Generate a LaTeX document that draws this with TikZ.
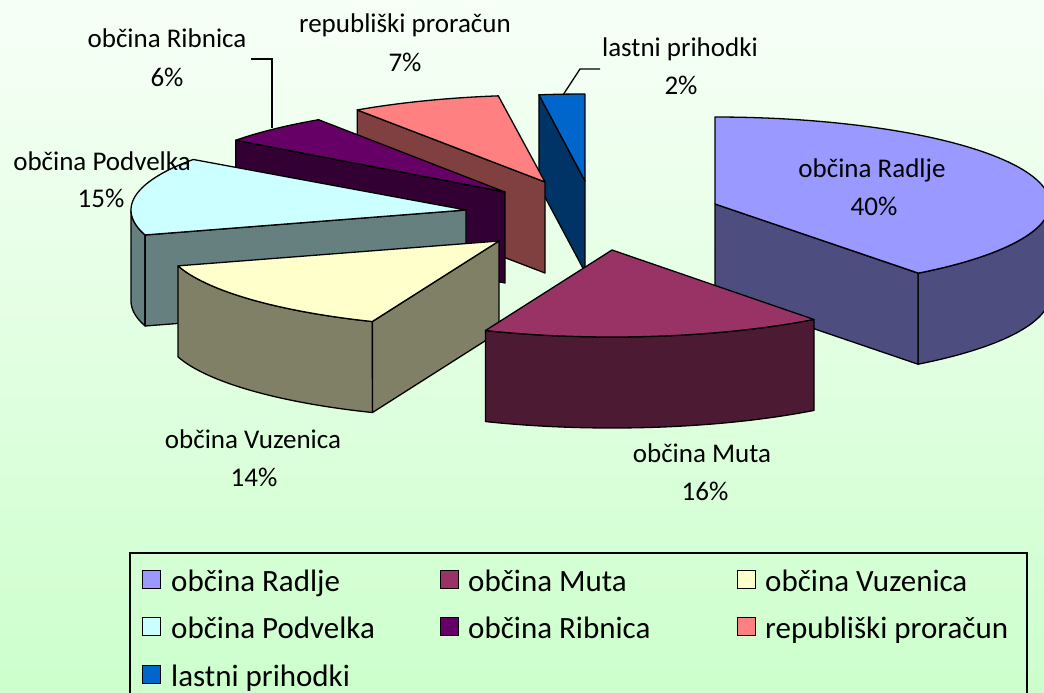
\documentclass[tikz,border=0pt]{standalone}
\usepackage{fontspec}
\setmainfont{Carlito}
\definecolor{bgtop}{HTML}{F7FFF7}
\definecolor{bgbot}{HTML}{CCFFCC}
\definecolor{radT}{HTML}{9999FF}\definecolor{radS}{HTML}{4D4D80}
\definecolor{mutT}{HTML}{993366}\definecolor{mutS}{HTML}{4D1A33}
\definecolor{vuzT}{HTML}{FFFFCC}\definecolor{vuzS}{HTML}{808066}
\definecolor{podT}{HTML}{CCFFFF}\definecolor{podS}{HTML}{668080}
\definecolor{ribT}{HTML}{660066}\definecolor{ribS}{HTML}{330033}
\definecolor{repT}{HTML}{FF8080}\definecolor{repS}{HTML}{804040}
\definecolor{lasT}{HTML}{0066CC}\definecolor{lasS}{HTML}{003366}
\newcommand\sectortop[5]{%
  \filldraw[pieedge,fill=#5] (#1,#2) -- plot[domain=0:1,samples=80]
   ({#1+335*cos((#3)+\x*((#4)-(#3)))},{#2-87*sin((#3)+\x*((#4)-(#3)))}) -- cycle;}
\newcommand\sectorside[5]{%
  \filldraw[pieedge,fill=#5] plot[domain=0:1,samples=50]
   ({#1+335*cos((#3)+\x*((#4)-(#3)))},{#2-87*sin((#3)+\x*((#4)-(#3)))})
   -- plot[domain=0:1,samples=50]
   ({#1+335*cos((#4)+\x*((#3)-(#4)))},{#2+91-87*sin((#4)+\x*((#3)-(#4)))}) -- cycle;}
\newcommand\sectorcut[4]{%
  \filldraw[pieedge,fill=#4] (#1,#2) -- ({#1+335*cos(#3)},{#2-87*sin(#3)})
   -- ({#1+335*cos(#3)},{#2+91-87*sin(#3)}) -- (#1,{#2+91}) -- cycle;}
\begin{document}
\begin{tikzpicture}[x=1pt,y=-1pt,
  pieedge/.style={draw=black,line width=1.3pt,line join=round},
  lbl/.style={anchor=base,inner sep=0pt,font=\fontsize{27}{32}\selectfont},
  legtxt/.style={anchor=base west,inner sep=0pt,font=\fontsize{31}{36}\selectfont},
  swatch/.style={draw=black,line width=1pt,minimum size=18pt,inner sep=0pt,anchor=south west},
  leader/.style={draw=black,line width=1.3pt}]
\useasboundingbox (0,0) rectangle (1044,693);
\clip (0,0) rectangle (1044,693);
\shade[top color=bgtop,bottom color=bgbot] (0,0) rectangle (1044,693);
% Radlje
\sectorside{715}{204}{-52.7}{0}{radS}
\sectorcut{715}{204}{-52.7}{radS}
\sectortop{715}{204}{90}{-52.7}{radT}
% lastni prihodki
\sectorcut{585}{181}{97.9}{lasS}
\sectortop{585}{181}{97.9}{90}{lasT}
% republiski proracun
\sectorcut{545}{182}{124.1}{repS}
\sectortop{545}{182}{124.1}{98}{repT}
% Ribnica
\sectorcut{505}{192}{143.5}{ribS}
\sectortop{505}{192}{143.5}{123.8}{ribT}
% Podvelka
\sectorside{466}{210}{180}{196.7}{podS}
\sectorcut{466}{210}{196.7}{podS}
\sectortop{466}{210}{144.5}{196.7}{podT}
% Vuzenica
\sectorside{499}{241}{196.6}{247.8}{vuzS}
\sectorcut{499}{241}{247.8}{vuzS}
\sectortop{499}{241}{196.6}{247.8}{vuzT}
% Muta
\sectorside{612}{250}{247.8}{307.1}{mutS}
\sectortop{612}{250}{247.8}{307.1}{mutT}
% labels
\node[lbl] (ribA) at (167,48) {občina Ribnica};
\node[lbl] (ribB) at (167,86) {6\%};
\node[lbl] (repA) at (405,33) {republiški proračun};
\node[lbl] (repB) at (405,72) {7\%};
\node[lbl] (lasA) at (680,57) {lastni prihodki};
\node[lbl] (lasB) at (681,95) {2\%};
\node[lbl] (radA) at (872,177) {občina Radlje};
\node[lbl] (radB) at (874,215) {40\%};
\node[lbl] (podA) at (102,170) {občina Podvelka};
\node[lbl] (podB) at (101,207) {15\%};
\node[lbl] (vuzA) at (253,448) {občina Vuzenica};
\node[lbl] (vuzB) at (254,486) {14\%};
\node[lbl] (mutA) at (702,462) {občina Muta};
\node[lbl] (mutB) at (705,500) {16\%};
% leader lines
\coordinate (ribL0) at (251,59);
\coordinate (ribL1) at (272,59);
\coordinate (ribL2) at (272,128);
\draw[leader] (ribL0) -- (ribL1) -- (ribL2);
\coordinate (lasL0) at (600,69);
\coordinate (lasL1) at (580,69);
\coordinate (lasL2) at (563,95);
\draw[leader] (lasL0) -- (lasL1) -- (lasL2);
% legend
\draw[line width=1.2pt] (130,553) rectangle (1027,710);
\node[swatch,fill=radT] (s1) at (142,589) {};
\node[legtxt] (t1) at (171,591) {občina Radlje};
\node[swatch,fill=mutT] (s2) at (440,589) {};
\node[legtxt] (t2) at (468,591) {občina Muta};
\node[swatch,fill=vuzT] (s3) at (737,589) {};
\node[legtxt] (t3) at (765,591) {občina Vuzenica};
\node[swatch,fill=podT] (s4) at (142,636) {};
\node[legtxt] (t4) at (171,638) {občina Podvelka};
\node[swatch,fill=ribT] (s5) at (440,636) {};
\node[legtxt] (t5) at (468,638) {občina Ribnica};
\node[swatch,fill=repT] (s6) at (737,636) {};
\node[legtxt] (t6) at (765,638) {republiški proračun};
\node[swatch,fill=lasT] (s7) at (142,684) {};
\node[legtxt] (t7) at (171,686) {lastni prihodki};
\end{tikzpicture}
\end{document}
